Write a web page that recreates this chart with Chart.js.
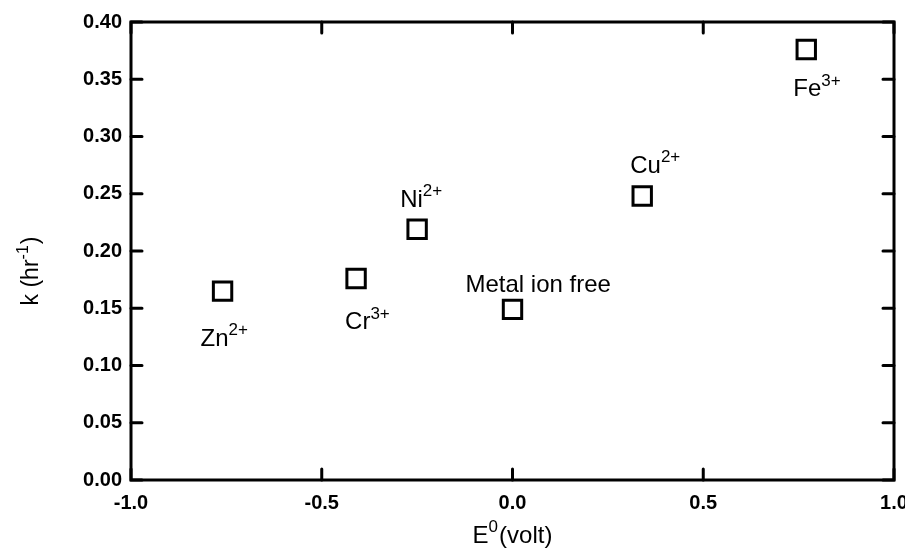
<!DOCTYPE html>
<html>
<head>
<meta charset="utf-8">
<script src="https://cdn.jsdelivr.net/npm/chart.js"></script>
<style>
  html, body { margin: 0; padding: 0; background: #fff; }
  #wrap { width: 905px; height: 556px; }
</style>
</head>
<body>
<div id="wrap"><canvas id="myChart"></canvas></div>
<script>
const ions = ['Zn', 'Cr', 'Ni', 'Metal ion free', 'Cu', 'Fe'];
const charges = ['2+', '3+', '2+', '', '2+', '3+'];
const e0 = [-0.76, -0.41, -0.25, 0.0, 0.34, 0.77];
const kRate = [0.165, 0.176, 0.219, 0.149, 0.248, 0.376];
const xTickLabels = ['-1.0', '-0.5', '0.0', '0.5', '1.0'];
const yTickLabels = ['0.00', '0.05', '0.10', '0.15', '0.20', '0.25', '0.30', '0.35', '0.40'];

// label placement next to each marker: [dx to left edge, dy to baseline]
const labelOffsets = [[-22, 55], [-11, 51], [-17, -22], [-47, -17], [-12, -23], [-13, 47]];

const FONT = '"Liberation Sans", Arial, sans-serif';

// draws text made of [text, isSuperscript] parts, returns total width
const drawParts = (ctx, parts, x, y, size, measureOnly) => {
  let w = 0;
  parts.forEach(([txt, sup]) => {
    const s = sup ? Math.round(size * 0.7) : size;
    ctx.font = s + 'px ' + FONT;
    if (!measureOnly) ctx.fillText(txt, x + w, sup ? y - size * 0.45 : y);
    w += ctx.measureText(txt).width + (sup ? 1 : 0);
  });
  return w;
};

const framePlugin = {
  id: 'frame',
  afterDraw(chart) {
    const ctx = chart.ctx;
    const { left, right, top, bottom } = chart.chartArea;
    const xs = chart.scales.x, ys = chart.scales.y;
    ctx.save();
    ctx.strokeStyle = '#000';
    ctx.lineWidth = 3;
    ctx.lineCap = 'round';
    ctx.strokeRect(left, top, right - left, bottom - top);
    const tl = 11;
    ctx.beginPath();
    xs.ticks.forEach((t) => {
      const px = xs.getPixelForValue(t.value);
      ctx.moveTo(px, bottom); ctx.lineTo(px, bottom - tl);
      ctx.moveTo(px, top); ctx.lineTo(px, top + tl);
    });
    ys.ticks.forEach((t) => {
      const py = ys.getPixelForValue(t.value);
      ctx.moveTo(left, py); ctx.lineTo(left + tl, py);
      ctx.moveTo(right, py); ctx.lineTo(right - tl, py);
    });
    ctx.stroke();

    // point labels
    ctx.fillStyle = '#000';
    ctx.textBaseline = 'alphabetic';
    ctx.textAlign = 'left';
    ions.forEach((ion, i) => {
      const px = xs.getPixelForValue(e0[i]);
      const py = ys.getPixelForValue(kRate[i]);
      const parts = [[ion, false]];
      if (charges[i]) parts.push([charges[i], true]);
      drawParts(ctx, parts, px + labelOffsets[i][0], py + labelOffsets[i][1], 24);
    });

    // axis titles
    const xt = [['E', false], ['0', true], ['(volt)', false]];
    const wx = drawParts(ctx, xt, 0, 0, 24, true);
    drawParts(ctx, xt, (left + right) / 2 - wx / 2, 543, 24);

    const yt = [['k (hr', false], ['-1', true], [')', false]];
    const wy = drawParts(ctx, yt, 0, 0, 23, true);
    ctx.translate(38, 271);
    ctx.rotate(-Math.PI / 2);
    drawParts(ctx, yt, -wy / 2, 0, 23);
    ctx.restore();
  }
};

const config = {
  type: 'scatter',
  data: {
    datasets: [{
      label: 'k',
      data: e0.map((x, i) => ({ x: x, y: kRate[i] })),
      pointStyle: 'rect',
      pointRadius: 13,
      pointHoverRadius: 13,
      borderWidth: 3,
      borderColor: '#000',
      backgroundColor: 'rgba(255,255,255,0)'
    }]
  },
  options: {
    responsive: true,
    maintainAspectRatio: false,
    animation: false,
    events: [],
    layout: { autoPadding: false, padding: { top: 22, right: 11, left: 0, bottom: 0 } },
    plugins: { legend: { display: false }, tooltip: { enabled: false } },
    scales: {
      x: {
        type: 'linear',
        min: -1, max: 1,
        grid: { display: false, drawTicks: false },
        border: { display: false },
        ticks: {
          stepSize: 0.5,
          padding: 11,
          color: '#000',
          font: { family: FONT, size: 20, weight: 'bold' },
          callback: (v, i) => xTickLabels[i]
        },
        afterFit: (scale) => {
          scale.height = 76;
          scale.paddingLeft = 0;
          scale.paddingRight = 0;
        }
      },
      y: {
        type: 'linear',
        min: 0, max: 0.4,
        grid: { display: false, drawTicks: false },
        border: { display: false },
        ticks: {
          stepSize: 0.05,
          padding: 9,
          color: '#000',
          font: { family: FONT, size: 20, weight: 'bold' },
          callback: (v, i) => yTickLabels[i]
        },
        afterFit: (scale) => {
          scale.width = 131;
          scale.paddingTop = 0;
          scale.paddingBottom = 0;
        }
      }
    }
  },
  plugins: [framePlugin]
};

var myChart = new Chart(document.getElementById('myChart'), config);
</script>
</body>
</html>
